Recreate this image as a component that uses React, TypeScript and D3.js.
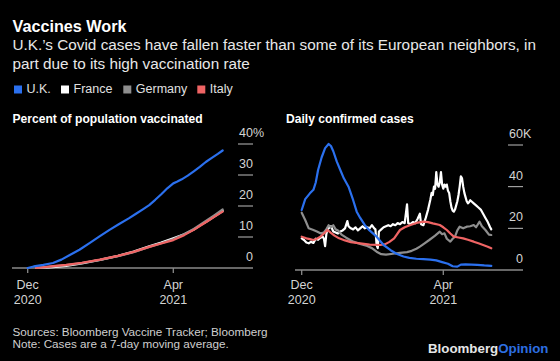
import React from "react";
import * as d3 from "d3";

// ---------- data ----------
const seriesNames = ["U.K.", "France", "Germany", "Italy"];
const seriesColors = ["#2b70ee", "#ffffff", "#8e8e8e", "#ef6464"];

// Percent of population vaccinated
const ukVax: [string, number][] = [
  ["2020-12-01", 0], ["2020-12-06", 0.5], ["2020-12-14", 1.0], ["2020-12-22", 1.6],
  ["2020-12-29", 2.7], ["2021-01-05", 4.2], ["2021-01-13", 5.9], ["2021-01-22", 8.2],
  ["2021-01-30", 10.3], ["2021-02-07", 12.3], ["2021-02-15", 14.2], ["2021-02-23", 16.0],
  ["2021-03-01", 17.5], ["2021-03-07", 19.0], ["2021-03-12", 20.3], ["2021-03-17", 22.0],
  ["2021-03-22", 23.8], ["2021-03-27", 25.7], ["2021-04-01", 27.3], ["2021-04-04", 27.8],
  ["2021-04-08", 28.6], ["2021-04-13", 29.8], ["2021-04-18", 31.2], ["2021-04-23", 32.6],
  ["2021-04-28", 34.2], ["2021-05-03", 35.5], ["2021-05-08", 36.8], ["2021-05-12", 37.9],
];
const euVaxDates = [
  "2020-12-08", "2020-12-15", "2020-12-22", "2021-01-02", "2021-01-15", "2021-01-30",
  "2021-02-14", "2021-02-27", "2021-03-12", "2021-03-22", "2021-04-01", "2021-04-10",
  "2021-04-18", "2021-04-24", "2021-04-29", "2021-05-05", "2021-05-12",
];
const franceVax = [0, 0.1, 0.3, 0.7, 1.5, 2.6, 3.9, 5.3, 7.0, 8.2, 9.6, 10.9, 12.4, 13.9, 15.1, 16.6, 18.4];
const germanyVax = [0, 0.2, 0.5, 0.9, 1.6, 2.6, 3.8, 5.1, 6.8, 8.0, 9.3, 10.9, 12.6, 14.1, 15.4, 17.0, 18.9];
const italyVax = [0, 0.3, 0.6, 1.0, 1.7, 2.7, 3.9, 5.2, 6.8, 7.9, 9.0, 10.6, 12.3, 13.8, 15.0, 16.5, 18.2];

// Daily confirmed cases (thousands, 7-day average)
const ukCases: [string, number][] = [
  ["2020-12-01", 28.8], ["2020-12-04", 34], ["2020-12-08", 36.8], ["2020-12-11", 38.5],
  ["2020-12-13", 42], ["2020-12-15", 48], ["2020-12-18", 54], ["2020-12-21", 58.5],
  ["2020-12-24", 60.5], ["2020-12-26", 59.5], ["2020-12-28", 57], ["2020-12-31", 52],
  ["2021-01-03", 48], ["2021-01-06", 44], ["2021-01-10", 40], ["2021-01-14", 33.5],
  ["2021-01-17", 28], ["2021-01-20", 25], ["2021-01-24", 21.5], ["2021-01-28", 19],
  ["2021-02-03", 16], ["2021-02-09", 12], ["2021-02-15", 9.5], ["2021-02-20", 7.8],
  ["2021-02-26", 6.5], ["2021-03-03", 5.8], ["2021-03-09", 5.4], ["2021-03-15", 5.2],
  ["2021-03-21", 5.0], ["2021-03-26", 4.6], ["2021-03-31", 3.8], ["2021-04-05", 3.0],
  ["2021-04-09", 1.8], ["2021-04-13", 1.6], ["2021-04-16", 2.6], ["2021-04-20", 2.7],
  ["2021-04-30", 2.5], ["2021-05-06", 2.2], ["2021-05-12", 2.0],
];
const franceCases: [string, number][] = [
  ["2020-12-01", 15.2], ["2020-12-03", 14.4], ["2020-12-05", 13.2], ["2020-12-07", 12.8],
  ["2020-12-09", 13.6], ["2020-12-11", 13], ["2020-12-13", 15], ["2020-12-15", 14.5],
  ["2020-12-17", 15.5], ["2020-12-19", 16], ["2020-12-20", 15], ["2020-12-21", 11.5],
  ["2020-12-22", 17], ["2020-12-23", 19.5], ["2020-12-25", 20.5], ["2020-12-26", 21],
  ["2020-12-28", 18.5], ["2020-12-30", 18], ["2021-01-01", 17.5], ["2021-01-03", 18.5],
  ["2021-01-05", 19], ["2021-01-07", 20], ["2021-01-09", 23.5], ["2021-01-10", 21],
  ["2021-01-12", 20], ["2021-01-14", 19.5], ["2021-01-16", 20.5], ["2021-01-18", 19],
  ["2021-01-20", 20], ["2021-01-22", 21], ["2021-01-24", 20], ["2021-01-26", 20.5],
  ["2021-01-28", 20], ["2021-01-30", 21.5], ["2021-02-01", 20], ["2021-02-02", 19.5],
  ["2021-02-03", 12], ["2021-02-04", 10.5], ["2021-02-05", 18.5], ["2021-02-07", 19.5],
  ["2021-02-09", 20.5], ["2021-02-11", 21], ["2021-02-13", 21.5], ["2021-02-15", 21],
  ["2021-02-17", 22], ["2021-02-19", 21.5], ["2021-02-21", 22.5], ["2021-02-23", 22],
  ["2021-02-25", 23], ["2021-02-27", 22.5], ["2021-03-01", 31.5], ["2021-03-02", 22.5],
  ["2021-03-04", 22], ["2021-03-06", 23], ["2021-03-08", 22.5], ["2021-03-10", 24.5],
  ["2021-03-12", 27], ["2021-03-13", 22], ["2021-03-15", 21.5], ["2021-03-17", 25],
  ["2021-03-19", 29], ["2021-03-21", 34], ["2021-03-22", 37], ["2021-03-23", 36],
  ["2021-03-24", 40], ["2021-03-25", 39], ["2021-03-26", 47], ["2021-03-27", 41],
  ["2021-03-28", 40], ["2021-03-29", 42], ["2021-03-30", 47], ["2021-03-31", 41],
  ["2021-04-01", 39], ["2021-04-02", 41], ["2021-04-03", 40], ["2021-04-04", 41],
  ["2021-04-05", 38], ["2021-04-06", 37], ["2021-04-07", 33], ["2021-04-08", 30],
  ["2021-04-09", 28.5], ["2021-04-10", 28], ["2021-04-11", 29], ["2021-04-12", 31],
  ["2021-04-13", 33], ["2021-04-14", 36], ["2021-04-15", 40], ["2021-04-16", 45],
  ["2021-04-17", 44], ["2021-04-18", 40], ["2021-04-19", 37], ["2021-04-20", 35],
  ["2021-04-21", 33], ["2021-04-22", 32], ["2021-04-23", 32.5], ["2021-04-24", 33.5],
  ["2021-04-25", 33], ["2021-04-27", 32], ["2021-04-29", 31], ["2021-05-01", 30],
  ["2021-05-03", 29], ["2021-05-05", 27], ["2021-05-07", 25], ["2021-05-09", 23],
  ["2021-05-11", 20.5], ["2021-05-12", 19.5],
];
const germanyCases: [string, number][] = [
  ["2020-12-01", 27.5], ["2020-12-04", 24], ["2020-12-07", 20], ["2020-12-11", 19.2],
  ["2020-12-14", 18.5], ["2020-12-17", 17.6], ["2020-12-20", 18], ["2020-12-22", 19.5],
  ["2020-12-24", 21.5], ["2020-12-26", 20.5], ["2020-12-28", 21.5], ["2020-12-30", 19.5],
  ["2021-01-01", 19], ["2021-01-04", 17], ["2021-01-08", 15.5], ["2021-01-14", 13.6],
  ["2021-01-20", 12.5], ["2021-01-26", 11.5], ["2021-01-30", 10.5], ["2021-02-03", 8.8],
  ["2021-02-07", 7.6], ["2021-02-11", 7.4], ["2021-02-17", 7.8], ["2021-02-23", 8.2],
  ["2021-03-01", 8.6], ["2021-03-05", 9.2], ["2021-03-09", 10.2], ["2021-03-12", 11.2],
  ["2021-03-16", 12.8], ["2021-03-20", 14.4], ["2021-03-25", 16.5], ["2021-03-29", 18.4],
  ["2021-03-31", 17.2], ["2021-04-02", 17.6], ["2021-04-04", 15], ["2021-04-07", 13.6],
  ["2021-04-09", 15], ["2021-04-11", 16], ["2021-04-13", 19], ["2021-04-15", 20.8],
  ["2021-04-18", 20], ["2021-04-21", 20.8], ["2021-04-24", 21], ["2021-04-27", 21.6],
  ["2021-04-29", 20.5], ["2021-05-02", 23.2], ["2021-05-04", 21], ["2021-05-07", 19.2],
  ["2021-05-10", 17], ["2021-05-12", 16.8],
];
const italyCases: [string, number][] = [
  ["2020-12-01", 16], ["2020-12-05", 15.2], ["2020-12-08", 14.8], ["2020-12-11", 14.4],
  ["2020-12-14", 15], ["2020-12-17", 16], ["2020-12-20", 17.5], ["2020-12-23", 19.2],
  ["2020-12-26", 17.8], ["2020-12-29", 16.5], ["2021-01-02", 15.2], ["2021-01-07", 14.2],
  ["2021-01-12", 13.4], ["2021-01-20", 12.8], ["2021-01-28", 12.2], ["2021-02-06", 12.0],
  ["2021-02-10", 12.3], ["2021-02-14", 13.5], ["2021-02-18", 15.2], ["2021-02-23", 19.2],
  ["2021-02-27", 20.5], ["2021-03-04", 21.6], ["2021-03-09", 22.6], ["2021-03-15", 23.2],
  ["2021-03-19", 23.0], ["2021-03-23", 22.4], ["2021-03-29", 21.6], ["2021-04-01", 20.5],
  ["2021-04-04", 19.2], ["2021-04-07", 17.5], ["2021-04-10", 16], ["2021-04-14", 15.6],
  ["2021-04-18", 15.2], ["2021-04-22", 14.5], ["2021-04-27", 13.6], ["2021-05-01", 12.8],
  ["2021-05-05", 12.0], ["2021-05-09", 11.2], ["2021-05-12", 10.4],
];

const xTickDates = ["2020-12-01", "2021-04-01"];
const xTickLines1 = ["Dec", "Apr"];
const xTickLines2 = ["2020", "2021"];
const vaxTicks = [0, 10, 20, 30, 40];
const caseTicks = [0, 20, 40, 60];

const title = "Vaccines Work";
const subtitle1 = "U.K.’s Covid cases have fallen faster than some of its European neighbors, in";
const subtitle2 = "part due to its high vaccination rate";
const leftTitle = "Percent of population vaccinated";
const rightTitle = "Daily confirmed cases";
const source = "Sources: Bloomberg Vaccine Tracker; Bloomberg";
const note = "Note: Cases are a 7-day moving average.";

// ---------- chart ----------
const W = 560;
const H = 361;
const FONT = "'Liberation Sans', Arial, sans-serif";
const parse = d3.utcParse("%Y-%m-%d");

type Pt = [string, number];
const zipDates = (dates: string[], vals: number[]): Pt[] => dates.map((d, i) => [d, vals[i]]);

function Panel(props: {
  series: Pt[][];
  colors: string[];
  xRange: [number, number];
  axisX: [number, number];
  yRange: [number, number];
  yDomain: [number, number];
  ticks: number[];
  suffix: string;
  tickX: [number, number];
  titleText: string;
  titleX: number;
}) {
  const x = d3
    .scaleUtc()
    .domain([parse(xTickDates[0])!, parse(xTickDates[1])!])
    .range(props.xRange);
  const y = d3.scaleLinear().domain(props.yDomain).range(props.yRange);
  const line = d3
    .line<Pt>()
    .x((d) => x(parse(d[0])!))
    .y((d) => y(d[1]))
    .curve(d3.curveLinear);
  const base = y(0);
  const maxTick = props.ticks[props.ticks.length - 1];
  return (
    <g>
      <text x={props.titleX} y={123} fill="#ffffff" fontWeight="bold" fontSize={12.1} fontFamily={FONT}>
        {props.titleText}
      </text>
      {props.ticks.map((t) =>
        t === 0 ? null : (
          <line key={"g" + t} x1={props.tickX[0]} x2={props.tickX[1]} y1={y(t)} y2={y(t)} stroke="#bdbdbd" strokeWidth={1} />
        )
      )}
      {props.ticks.map((t) => (
        <text key={"t" + t} x={props.tickX[1]} y={y(t) - 7} fill="#d4d4d4" fontSize={12.5} fontFamily={FONT} textAnchor="end">
          {String(t)}
        </text>
      ))}
      <text x={props.tickX[1]} y={y(maxTick) - 7} fill="#d4d4d4" fontSize={12.5} fontFamily={FONT}>
        {props.suffix}
      </text>
      <line x1={props.axisX[0]} x2={props.axisX[1]} y1={base} y2={base} stroke="#8a8a8a" strokeWidth={1.3} />
      {xTickDates.map((d, i) => {
        const px = x(parse(d)!);
        return (
          <g key={d}>
            <line x1={px} x2={px} y1={base} y2={base + 5} stroke="#8a8a8a" strokeWidth={1.3} />
            <text x={px} y={289} fill="#d4d4d4" fontSize={12.5} fontFamily={FONT} textAnchor="middle">
              {xTickLines1[i]}
            </text>
            <text x={px} y={303.5} fill="#d4d4d4" fontSize={12.5} fontFamily={FONT} textAnchor="middle">
              {xTickLines2[i]}
            </text>
          </g>
        );
      })}
      {props.series.map((s, i) => (
        <path key={i} d={line(s) || ""} fill="none" stroke={props.colors[i]} strokeWidth={2.2} strokeLinejoin="round" strokeLinecap="round" />
      ))}
    </g>
  );
}

export default function App() {
  React.useEffect(() => {
    document.body.style.margin = "0";
    document.body.style.background = "#000";
  }, []);

  const vaxSeries = [
    zipDates(euVaxDates, franceVax),
    zipDates(euVaxDates, germanyVax),
    zipDates(euVaxDates, italyVax),
    ukVax,
  ];
  const caseSeries = [franceCases, germanyCases, italyCases, ukCases];
  const order = [1, 2, 3, 0];
  const orderColors = order.map((i) => seriesColors[i]);

  const legendX = [14, 61, 123.3, 197.3];

  return (
    <svg width={W} height={H} style={{ position: "absolute", left: 0, top: 0, background: "#000", display: "block" }}>
      <rect x={0} y={0} width={W} height={H} fill="#000" />
      <text x={12.5} y={31.7} fill="#ffffff" fontWeight="bold" fontSize={16.2} fontFamily={FONT}>
        {title}
      </text>
      <text x={12.5} y={50} fill="#e8e8e8" fontSize={15.3} fontFamily={FONT}>
        {subtitle1}
      </text>
      <text x={12.5} y={68.5} fill="#e8e8e8" fontSize={15.3} fontFamily={FONT}>
        {subtitle2}
      </text>
      {seriesNames.map((n, i) => (
        <g key={n}>
          <rect x={legendX[i]} y={85.5} width={8} height={8} fill={seriesColors[i]} />
          <text x={legendX[i] + 12.5} y={93.3} fill="#e0e0e0" fontSize={12.5} fontFamily={FONT}>
            {n}
          </text>
        </g>
      ))}

      <Panel
        series={vaxSeries}
        colors={orderColors}
        xRange={[27.7, 173.3]}
        axisX={[12, 253]}
        yRange={[268, 144]}
        yDomain={[0, 40]}
        ticks={vaxTicks}
        suffix="%"
        tickX={[238, 253]}
        titleText={leftTitle}
        titleX={12.5}
      />
      <Panel
        series={caseSeries}
        colors={orderColors}
        xRange={[301.7, 443.3]}
        axisX={[295, 523]}
        yRange={[270, 145]}
        yDomain={[0, 60]}
        ticks={caseTicks}
        suffix="K"
        tickX={[508, 523]}
        titleText={rightTitle}
        titleX={286}
      />

      <text x={12.5} y={335.7} fill="#cfcfcf" fontSize={11.7} fontFamily={FONT}>
        {source}
      </text>
      <text x={12.5} y={347.5} fill="#cfcfcf" fontSize={11.7} fontFamily={FONT}>
        {note}
      </text>
      <text x={428} y={353} fontSize={13.3} fontWeight="bold" fontFamily={FONT}>
        <tspan fill="#e6e6e6">Bloomberg</tspan>
        <tspan fill="#2d6fe0">Opinion</tspan>
      </text>
    </svg>
  );
}
